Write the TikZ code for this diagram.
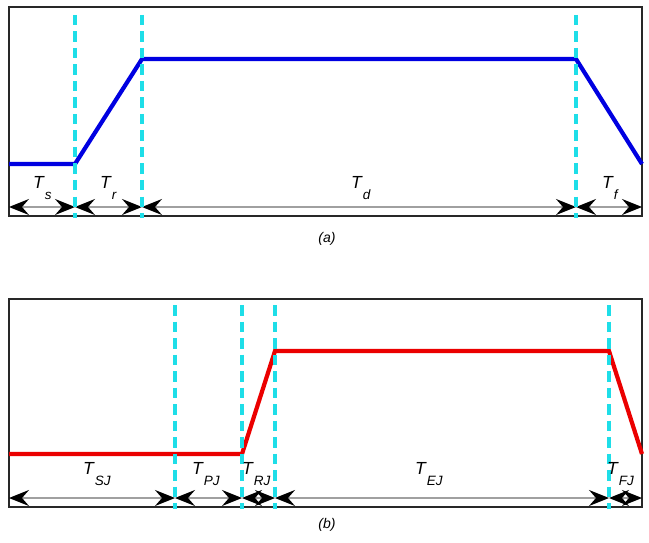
\documentclass[tikz,border=0pt]{standalone}
\usepackage{fontspec}
\setmainfont{Liberation Sans}
\usetikzlibrary{arrows.meta}
\definecolor{dcyan}{RGB}{30,222,232}
\definecolor{sigblue}{RGB}{0,0,225}
\definecolor{sigred}{RGB}{235,0,0}
\definecolor{boxgray}{RGB}{40,40,40}
\definecolor{dimgray}{RGB}{160,160,160}
\newcommand{\lab}[2]{\fontsize{17.5}{17.5}\selectfont\textit{#1}\raisebox{-11pt}{\fontsize{13.5}{13.5}\selectfont\textit{#2}}}
\tikzset{
  frame/.style={draw=boxgray,line width=2pt},
  sigA/.style={draw=sigblue,line width=4.2pt,line join=miter},
  sigB/.style={draw=sigred,line width=4.2pt,line join=miter},
  guide/.style={draw=dcyan,line width=3.4pt,dash pattern=on 10.5pt off 6pt},
  dim/.style={draw=dimgray,line width=1.5pt,{Stealth[black,length=20pt,width=16pt,inset=7pt]}-{Stealth[black,length=20pt,width=16pt,inset=7pt]}},
  lbl/.style={anchor=base west,inner sep=0pt},
  captext/.style={font=\fontsize{14}{14}\selectfont\itshape}
}
\begin{document}
\begin{tikzpicture}[x=1pt,y=-1pt]
\useasboundingbox (0,0) rectangle (649,543);
% ---------- panel (a)
\draw[frame] (9,7) rectangle (642,216);
\coordinate (a0) at (9,164);
\coordinate (a1) at (75,164);
\coordinate (a2) at (142,59);
\coordinate (a3) at (576,59);
\coordinate (a4) at (642,164);
\draw[sigA] (a0) -- (a1) -- (a2) -- (a3) -- (a4);
\coordinate (da0) at (9,207);
\coordinate (da1) at (75,207);
\coordinate (da2) at (142,207);
\coordinate (da3) at (576,207);
\coordinate (da4) at (642,207);
\draw[dim] (da0) -- (da1);
\draw[dim] (da1) -- (da2);
\draw[dim] (da2) -- (da3);
\draw[dim] (da3) -- (da4);
\foreach \x/\n in {75/ga1,142/ga2,576/ga3}{
  \coordinate (\n t) at (\x,15);
  \coordinate (\n b) at (\x,218);
  \draw[guide] (\n t) -- (\n b);
}
\node[lbl] (ts) at (33,189) {\lab{T}{s}};
\node[lbl] (tr) at (100,189) {\lab{T}{r}};
\node[lbl] (td) at (351,189) {\lab{T}{d}};
\node[lbl] (tf) at (602,189) {\lab{T}{f}};
\node[captext] (capa) at (327,239) {(a)};
% ---------- panel (b)
\draw[frame] (9,299) rectangle (642,507);
\coordinate (b0) at (9,454);
\coordinate (b1) at (242,454);
\coordinate (b2) at (275,351);
\coordinate (b3) at (609,351);
\coordinate (b4) at (642,454);
\draw[sigB] (b0) -- (b1) -- (b2) -- (b3) -- (b4);
\coordinate (db0) at (9,498);
\coordinate (db1) at (175,498);
\coordinate (db2) at (242,498);
\coordinate (db3) at (275,498);
\coordinate (db4) at (609,498);
\coordinate (db5) at (642,498);
\draw[dim] (db0) -- (db1);
\draw[dim] (db1) -- (db2);
\draw[dim] (db2) -- (db3);
\draw[dim] (db3) -- (db4);
\draw[dim] (db4) -- (db5);
\foreach \x/\n in {175/gb1,242/gb2,275/gb3,609/gb4}{
  \coordinate (\n t) at (\x,305);
  \coordinate (\n b) at (\x,509);
  \draw[guide] (\n t) -- (\n b);
}
\node[lbl] (tsj) at (83,474) {\lab{T}{SJ}};
\node[lbl] (tpj) at (192,474) {\lab{T}{PJ}};
\node[lbl] (trj) at (242,474) {\lab{T}{RJ}};
\node[lbl] (tej) at (415,474) {\lab{T}{EJ}};
\node[lbl] (tfj) at (607,474) {\lab{T}{FJ}};
\node[captext] (capb) at (327,525) {(b)};
\end{tikzpicture}
\end{document}
